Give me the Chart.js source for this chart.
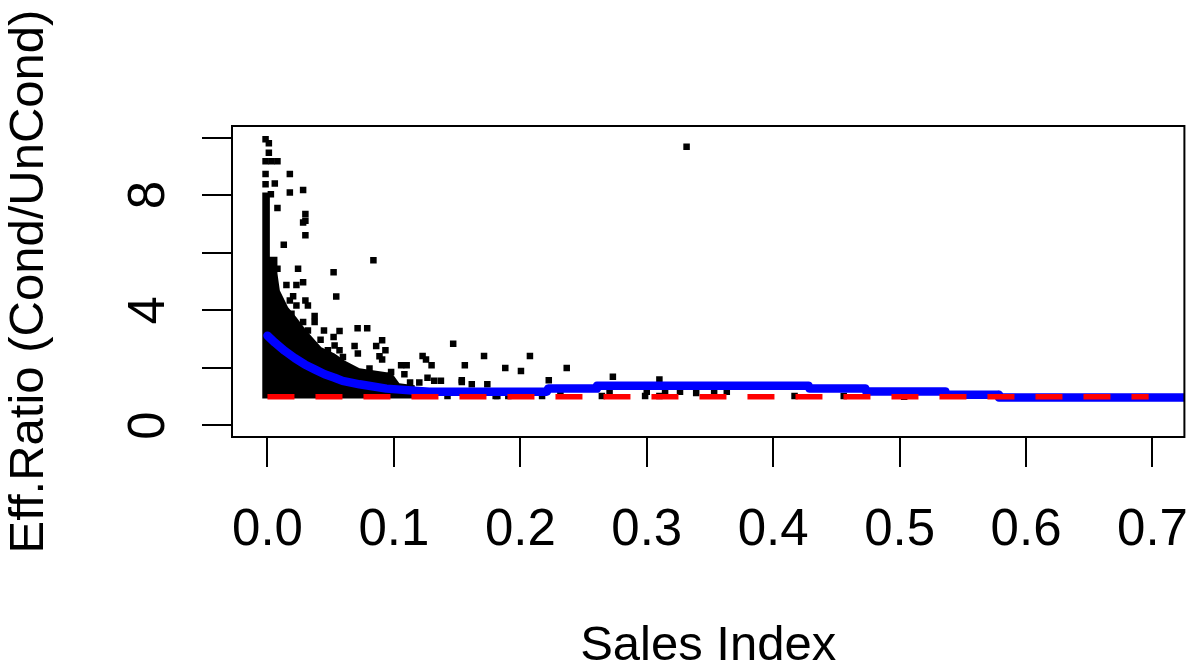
<!DOCTYPE html>
<html lang="en">
<head>
    <meta charset="UTF-8">
    <title>Eff.Ratio vs Sales Index</title>
    <script src="https://cdn.jsdelivr.net/npm/chart.js@4"></script>
    <style>
      body {
    margin: 0;
    padding: 0;
    background: #ffffff;
}

#wrap {
    width: 1189px;
    height: 669px;
}
    </style>
</head>
<body>
    <div id="wrap">
        <canvas id="ratioChart" width="1189" height="669"></canvas>
    </div>
    <script>
        // axis ticks
        const xTicks = [0, 0.1, 0.2, 0.3, 0.4, 0.5, 0.6, 0.7];
        const xTickLabels = ['0.0', '0.1', '0.2', '0.3', '0.4', '0.5', '0.6', '0.7'];
        const yTicks = [0, 2, 4, 6, 8, 10];
        const yLabelValues = [0, 4, 8];
        const yLabelText = ['0', '4', '8'];

        // solid black mass of overlapping points (upper edge)
        const denseX = [-0.0042, 0.0019, 0.0019, 0.0079, 0.0079, 0.0098, 0.0163, 0.0229, 0.0308, 0.0426, 0.0531, 0.0610, 0.0728, 0.0941, 0.0980, 0.1043, 0.1166];
        const denseY = [8.09, 8.09, 5.86, 5.86, 5.28, 4.69, 4.11, 3.76, 3.30, 2.72, 2.50, 2.26, 1.99, 1.85, 1.85, 1.47, 1.40];

        // individual points outside the mass
        const ptX = [-0.0015, 0.0011, 0.0011, -0.0015, 0.0032, 0.0079, -0.0015, 0.0177, -0.0015, 0.0058, 0.0177, 0.0282, 0.0027, 0.0079,
            0.0300, 0.0300, 0.0282, 0.0300, 0.0129, 0.0242, 0.0523, 0.0079, 0.0150, 0.0229, 0.0282, 0.0544, 0.0203, 0.0177, 0.0300,
            0.0229, 0.0320, 0.0373, 0.0373, 0.0282, 0.0190, 0.0320, 0.0447, 0.0420, 0.0523, 0.0570, 0.0531, 0.0478, 0.0570, 0.0597,
            0.0713, 0.0789, 0.0689, 0.0860, 0.0907, 0.0933, 0.0715, 0.0886, 0.0907, 0.1469, 0.1713, 0.1227, 0.1254, 0.1298, 0.1561,
            0.1057, 0.1101, 0.1083, 0.0978, 0.0978, 0.0807, 0.1266, 0.1319, 0.1372, 0.1128, 0.1201, 0.1537, 0.1616, 0.1739, 0.1424,
            0.1805, 0.0838, 0.1881, 0.2005, 0.2076, 0.2225, 0.2367, 0.2732, 0.3100, 0.3315, 0.1537, 0.1818, 0.1905, 0.2172, 0.2317,
            0.2645, 0.2706, 0.2987, 0.3000, 0.3100, 0.3145, 0.3263, 0.3391, 0.3533, 0.3633, 0.4169, 0.4558, 0.5036];
        const ptY = [9.94, 9.80, 9.47, 9.18, 9.18, 9.18, 8.73, 8.73, 8.38, 8.40, 8.09, 8.18, 8.03, 7.55,
            7.34, 7.11, 7.05, 6.61, 6.28, 5.44, 5.32, 5.44, 4.88, 4.88, 4.97, 4.48, 4.49, 4.34, 4.34,
            4.17, 4.17, 3.80, 3.59, 3.59, 3.88, 3.30, 3.30, 2.98, 3.07, 3.28, 2.78, 2.61, 2.61, 2.38,
            3.38, 3.38, 2.76, 2.76, 2.96, 2.61, 2.50, 2.40, 2.29, 2.84, 2.41, 2.41, 2.29, 2.09, 2.09,
            2.09, 2.09, 1.78, 1.86, 1.51, 1.98, 1.66, 1.55, 1.55, 1.49, 1.49, 1.57, 1.43, 1.43, 1.02,
            1.02, 5.74, 2.00, 1.89, 2.41, 1.57, 2.00, 1.69, 1.60, 9.68, 1.51, 1.02, 1.02, 1.02, 1.11,
            1.02, 1.17, 1.02, 1.17, 1.02, 1.17, 1.17, 1.13, 1.17, 1.17, 1.02, 1.02, 1.00];

        // blue running ratio
        const curveX = [0.0000, 0.0058, 0.0137, 0.0216, 0.0295, 0.0373, 0.0452, 0.0531, 0.0594, 0.0728, 0.0941, 0.1280, 0.2210,
            0.2220, 0.2600, 0.2606, 0.4280, 0.4287, 0.4729, 0.4736, 0.5362, 0.5368, 0.5780, 0.5786, 0.7300];
        const curveY = [3.12, 2.88, 2.59, 2.34, 2.12, 1.95, 1.78, 1.66, 1.55, 1.43, 1.28, 1.17, 1.17,
            1.28, 1.28, 1.38, 1.38, 1.28, 1.28, 1.18, 1.18, 1.07, 1.07, 0.97, 0.97];

        // red reference line at ratio 1
        const refX = [0, 0.697];
        const refY = [1, 1];

        const fontFamily = '"Liberation Sans", Arial, sans-serif';
        const toXY = (xs, ys) => xs.map((x, i) => ({ x: x, y: ys[i] }));

        const boxPlugin = {
            id: 'rBox',
            afterDatasetsDraw(chart) {
                const { ctx, chartArea: a } = chart;
                ctx.save();
                ctx.strokeStyle = '#000';
                ctx.lineWidth = 2;
                ctx.strokeRect(a.left, a.top, a.right - a.left, a.bottom - a.top);
                ctx.restore();
            }
        };

        // R draws y tick labels parallel to the axis
        const yLabelPlugin = {
            id: 'rYLabels',
            afterDraw(chart) {
                const { ctx } = chart;
                const yScale = chart.scales.y;
                ctx.save();
                ctx.fillStyle = '#000';
                ctx.font = '51px ' + fontFamily;
                ctx.textAlign = 'center';
                ctx.textBaseline = 'alphabetic';
                yLabelValues.forEach((v, i) => {
                    ctx.save();
                    ctx.translate(164, yScale.getPixelForValue(v));
                    ctx.rotate(-Math.PI / 2);
                    ctx.fillText(yLabelText[i], 0, 0);
                    ctx.restore();
                });
                ctx.restore();
            }
        };

        function initChart() {
            const ctx = document.getElementById('ratioChart').getContext('2d');
            new Chart(ctx, {
                type: 'line',
                data: {
                    datasets: [
                        { data: toXY(refX, refY), order: 0, borderColor: '#ff0000', borderWidth: 5.5, borderDash: [27, 21], borderCapStyle: 'butt', pointRadius: 0, fill: false },
                        { data: toXY(curveX, curveY), order: 1, borderColor: '#0000ff', borderWidth: 8.5, borderCapStyle: 'round', borderJoinStyle: 'round', pointRadius: 0, fill: false },
                        { data: toXY(ptX, ptY), order: 2, showLine: false, pointStyle: 'rect', pointRadius: 4.6, pointBorderWidth: 0, pointBackgroundColor: '#000' },
                        { data: toXY(denseX, denseY), order: 3, borderColor: '#000', borderWidth: 0, backgroundColor: '#000', pointRadius: 0, fill: { value: 0.94 } }
                    ]
                },
                options: {
                    responsive: false,
                    animation: false,
                    devicePixelRatio: 1,
                    clip: 0,
                    layout: { padding: { top: 126, right: 1, left: 0, bottom: 0 } },
                    plugins: { legend: { display: false }, tooltip: { enabled: false } },
                    scales: {
                        x: {
                            type: 'linear',
                            min: -0.02805,
                            max: 0.72525,
                            afterBuildTicks: (scale) => { scale.ticks = xTicks.map(v => ({ value: v })); },
                            afterFit: (scale) => { scale.height = 232; scale.paddingLeft = 0; scale.paddingRight = 0; },
                            border: { display: false },
                            grid: { drawOnChartArea: false, drawTicks: true, tickLength: 30, color: '#000', lineWidth: 2 },
                            ticks: {
                                color: '#000',
                                padding: 33,
                                maxRotation: 0,
                                autoSkip: false,
                                font: { family: fontFamily, size: 51 },
                                callback: (v, i) => xTickLabels[i]
                            },
                            title: { display: true, text: 'Sales Index', color: '#000', font: { family: fontFamily, size: 49, lineHeight: 0.9 }, padding: { top: 0, bottom: 0 } }
                        },
                        y: {
                            type: 'linear',
                            min: -0.4,
                            max: 10.4,
                            afterBuildTicks: (scale) => { scale.ticks = yTicks.map(v => ({ value: v })); },
                            afterFit: (scale) => { scale.width = 232; scale.paddingTop = 0; scale.paddingBottom = 0; },
                            border: { display: false },
                            grid: { drawOnChartArea: false, drawTicks: true, tickLength: 30, color: '#000', lineWidth: 2 },
                            ticks: { display: false },
                            title: { display: true, text: 'Eff.Ratio (Cond/UnCond)', color: '#000', font: { family: fontFamily, size: 49, lineHeight: 1 }, padding: { top: 5, bottom: 0 } }
                        }
                    }
                },
                plugins: [boxPlugin, yLabelPlugin]
            });
        }

        initChart();
    </script>
</body>
</html>
